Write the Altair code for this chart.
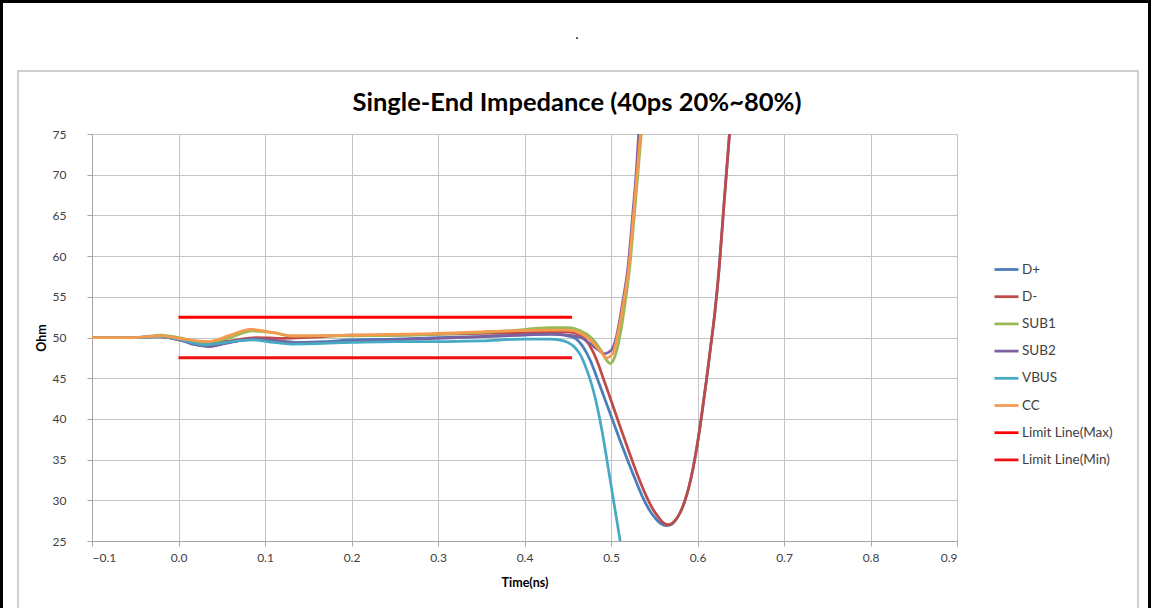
import altair as alt
import pandas as pd

SERIES = ["D+", "D-", "SUB1", "SUB2", "VBUS", "CC", "Limit Line(Max)", "Limit Line(Min)"]
COLORS = ["#4A7EBB", "#BE4B48", "#98B954", "#7D60A0", "#46AAC5", "#F59A4F", "#FF0000", "#F01010"]

TITLE = "Single-End Impedance (40ps 20%~80%)"
X_TICKS = [-0.1, 0.0, 0.1, 0.2, 0.3, 0.4, 0.5, 0.6, 0.7, 0.8, 0.9]
Y_TICKS = [25, 30, 35, 40, 45, 50, 55, 60, 65, 70, 75]

T_DP = [-0.1, -0.05, -0.025, 0.0, 0.015, 0.035, 0.055, 0.08, 0.095, 0.115, 0.135, 0.17, 0.2, 0.25,
        0.3, 0.35, 0.4, 0.43, 0.44, 0.45, 0.46, 0.468, 0.476, 0.484, 0.493, 0.502, 0.511, 0.52,
        0.529, 0.537, 0.545, 0.552, 0.558, 0.564, 0.569, 0.575, 0.58, 0.585, 0.59, 0.595, 0.6,
        0.605, 0.61, 0.615, 0.62, 0.625, 0.63, 0.634, 0.637, 0.64]
V_DP = [50.0, 50.0, 50.15, 49.8, 49.2, 48.9, 49.3, 49.8, 49.9, 49.6, 49.4, 49.5, 49.7, 49.8,
        50.0, 50.1, 50.3, 50.4, 50.35, 50.2, 49.8, 48.8, 47.2, 45.0, 42.4, 39.8, 37.2, 34.7,
        32.3, 30.3, 28.7, 27.7, 27.1, 26.9, 27.0, 27.6, 28.5, 29.8, 31.6, 34.0, 37.0,
        40.6, 44.5, 48.7, 53.0, 58.5, 65.5, 71.0, 75.0, 79.0]

T_DM = [-0.1, -0.05, -0.025, 0.0, 0.03, 0.06, 0.09, 0.12, 0.15, 0.2, 0.25, 0.3, 0.35, 0.4, 0.43,
        0.45, 0.46, 0.47, 0.478, 0.485, 0.492, 0.5, 0.51, 0.52, 0.53, 0.54, 0.548, 0.555, 0.561,
        0.566, 0.571, 0.576, 0.58, 0.585, 0.59, 0.595, 0.6, 0.605, 0.61, 0.615, 0.62, 0.625,
        0.63, 0.634, 0.637, 0.64]
V_DM = [50.0, 50.0, 50.1, 49.8, 49.3, 49.6, 50.0, 49.9, 50.0, 50.3, 50.3, 50.4, 50.5, 50.6, 50.7,
        50.7, 50.5, 49.8, 48.5, 46.8, 44.7, 42.3, 39.2, 36.2, 33.3, 30.7, 29.0, 27.9, 27.2,
        27.0, 27.2, 27.8, 28.5, 29.8, 31.6, 34.0, 37.0, 40.6, 44.5, 48.7, 53.0, 58.5,
        65.5, 71.0, 75.0, 79.0]

T_SUB1 = [-0.1, -0.05, -0.02, 0.0, 0.03, 0.06, 0.085, 0.11, 0.13, 0.2, 0.3, 0.38, 0.43, 0.45,
          0.465, 0.477, 0.488, 0.495, 0.499, 0.504, 0.51, 0.516, 0.522, 0.527, 0.531, 0.535, 0.538]
V_SUB1 = [50.0, 50.0, 50.3, 50.0, 49.4, 50.0, 50.8, 50.6, 50.2, 50.2, 50.4, 50.8, 51.2, 51.2,
          50.8, 50.0, 48.5, 47.2, 46.8, 47.5, 50.0, 54.0, 59.0, 65.0, 70.0, 75.0, 79.0]

T_SUB2 = [-0.1, -0.05, -0.02, 0.0, 0.035, 0.055, 0.085, 0.115, 0.135, 0.2, 0.3, 0.35, 0.43, 0.45,
          0.465, 0.475, 0.485, 0.492, 0.5, 0.506, 0.513, 0.52, 0.525, 0.529, 0.532, 0.535]
V_SUB2 = [50.0, 50.0, 50.1, 49.7, 48.9, 49.3, 49.8, 49.6, 49.3, 49.5, 49.9, 50.1, 50.4, 50.3,
          50.0, 49.3, 48.5, 48.0, 48.4, 50.0, 54.0, 59.0, 65.0, 70.0, 75.0, 79.0]

T_VBUS = [-0.1, -0.05, -0.02, 0.0, 0.03, 0.055, 0.085, 0.11, 0.13, 0.2, 0.25, 0.3, 0.35, 0.4,
          0.43, 0.44, 0.45, 0.458, 0.465, 0.471, 0.476, 0.481, 0.486, 0.49, 0.494, 0.498, 0.502,
          0.506, 0.51, 0.513]
V_VBUS = [50.0, 50.0, 50.1, 49.8, 49.1, 49.4, 49.7, 49.4, 49.2, 49.4, 49.5, 49.5, 49.6, 49.8,
          49.8, 49.7, 49.4, 48.8, 47.8, 46.3, 44.8, 42.9, 40.5, 38.3, 35.8, 33.2, 30.6,
          28.0, 25.4, 23.5]

T_CC = [-0.1, -0.05, -0.02, 0.0, 0.035, 0.06, 0.083, 0.11, 0.13, 0.2, 0.3, 0.35, 0.43, 0.45,
        0.465, 0.477, 0.488, 0.495, 0.502, 0.507, 0.514, 0.521, 0.526, 0.53, 0.534, 0.537]
V_CC = [50.0, 50.0, 50.2, 49.9, 49.5, 50.3, 51.0, 50.6, 50.2, 50.3, 50.5, 50.7, 50.9, 50.9,
        50.5, 49.6, 48.3, 47.5, 48.0, 50.0, 54.0, 59.0, 65.0, 70.0, 75.0, 79.0]

T_LIMIT = [0.0, 0.455]
V_MAX = [52.5, 52.5]
V_MIN = [47.5, 47.5]

curves = [("D+", T_DP, V_DP), ("D-", T_DM, V_DM), ("SUB1", T_SUB1, V_SUB1),
          ("SUB2", T_SUB2, V_SUB2), ("VBUS", T_VBUS, V_VBUS), ("CC", T_CC, V_CC)]
limits = [("Limit Line(Max)", T_LIMIT, V_MAX), ("Limit Line(Min)", T_LIMIT, V_MIN)]


def to_df(items):
    rows = []
    for name, ts, vs in items:
        for t, v in zip(ts, vs):
            rows.append({"series": name, "t": t, "v": v})
    return pd.DataFrame(rows)


df_curves = to_df(curves)
df_limits = to_df(limits)

FONT = "Lato"
x = alt.X("t:Q", scale=alt.Scale(domain=[-0.1, 0.9], nice=False, zero=False),
          axis=alt.Axis(values=X_TICKS, format=".1f", title="Time(ns)",
                        titleX=432.5, titleY=41, titleBaseline="middle"))
y = alt.Y("v:Q", scale=alt.Scale(domain=[25, 75], nice=False, zero=False),
          axis=alt.Axis(values=Y_TICKS, title="Ohm", titleX=-51, titleY=203.5,
                        titleBaseline="middle", titleAngle=270))
color = alt.Color("series:N", scale=alt.Scale(domain=SERIES, range=COLORS),
                  legend=alt.Legend(title=None, orient="none", legendX=901, legendY=122,
                                    symbolType="stroke", symbolSize=576, symbolStrokeWidth=2.75,
                                    labelFont=FONT, labelFontSize=13.5, labelColor="#404040",
                                    rowPadding=7.2, labelOffset=2, padding=0))

lines = alt.Chart(df_curves).mark_line(strokeWidth=2.75, interpolate="monotone", clip=True).encode(
    x=x, y=y, color=color)
limit_lines = alt.Chart(df_limits).mark_line(strokeWidth=3, clip=True).encode(
    x=x, y=y, color=color)

one = alt.Data(values=[{}])
inner_frame = alt.Chart(one).mark_rect(filled=False, stroke="#CFCFCF", strokeWidth=2).encode(
    x=alt.value(-74), x2=alt.value(1046), y=alt.value(-63), y2=alt.value(500))
outer_frame = alt.Chart(one).mark_rect(filled=False, stroke="#000000", strokeWidth=3).encode(
    x=alt.value(-90.5), x2=alt.value(1057.5), y=alt.value(-132.5), y2=alt.value(520))
dot = alt.Chart(one).mark_text(text=".", fontSize=14, font=FONT, color="#000000").encode(
    x=alt.value(485), y=alt.value(-99))
title = alt.Chart(one).mark_text(text=TITLE, fontSize=25.5, font=FONT, fontWeight="bold",
                                 color="#000000", align="center", baseline="alphabetic").encode(
    x=alt.value(485), y=alt.value(-23))

chart = alt.layer(limit_lines, lines, inner_frame, outer_frame, dot, title).properties(
    width=865, height=407,
    autosize=alt.AutoSizeParams(type="none"),
    padding={"left": 92, "top": 134, "right": 194, "bottom": 67},
    background="#FFFFFF",
).configure_view(strokeWidth=0).configure_axis(
    grid=True, gridColor="#C4C4C4", gridWidth=1,
    domainColor="#A6A6A6", domainWidth=1,
    tickColor="#A6A6A6", tickSize=5,
    labelFont=FONT, labelFontSize=12, labelColor="#404040",
    titleFont=FONT, titleFontSize=12.5, titleFontWeight="bold", titleColor="#000000",
).configure_axisY(labelPadding=21).configure_axisX(labelPadding=6)

chart.save("out.html", embed_options={"renderer": "svg", "actions": False})
